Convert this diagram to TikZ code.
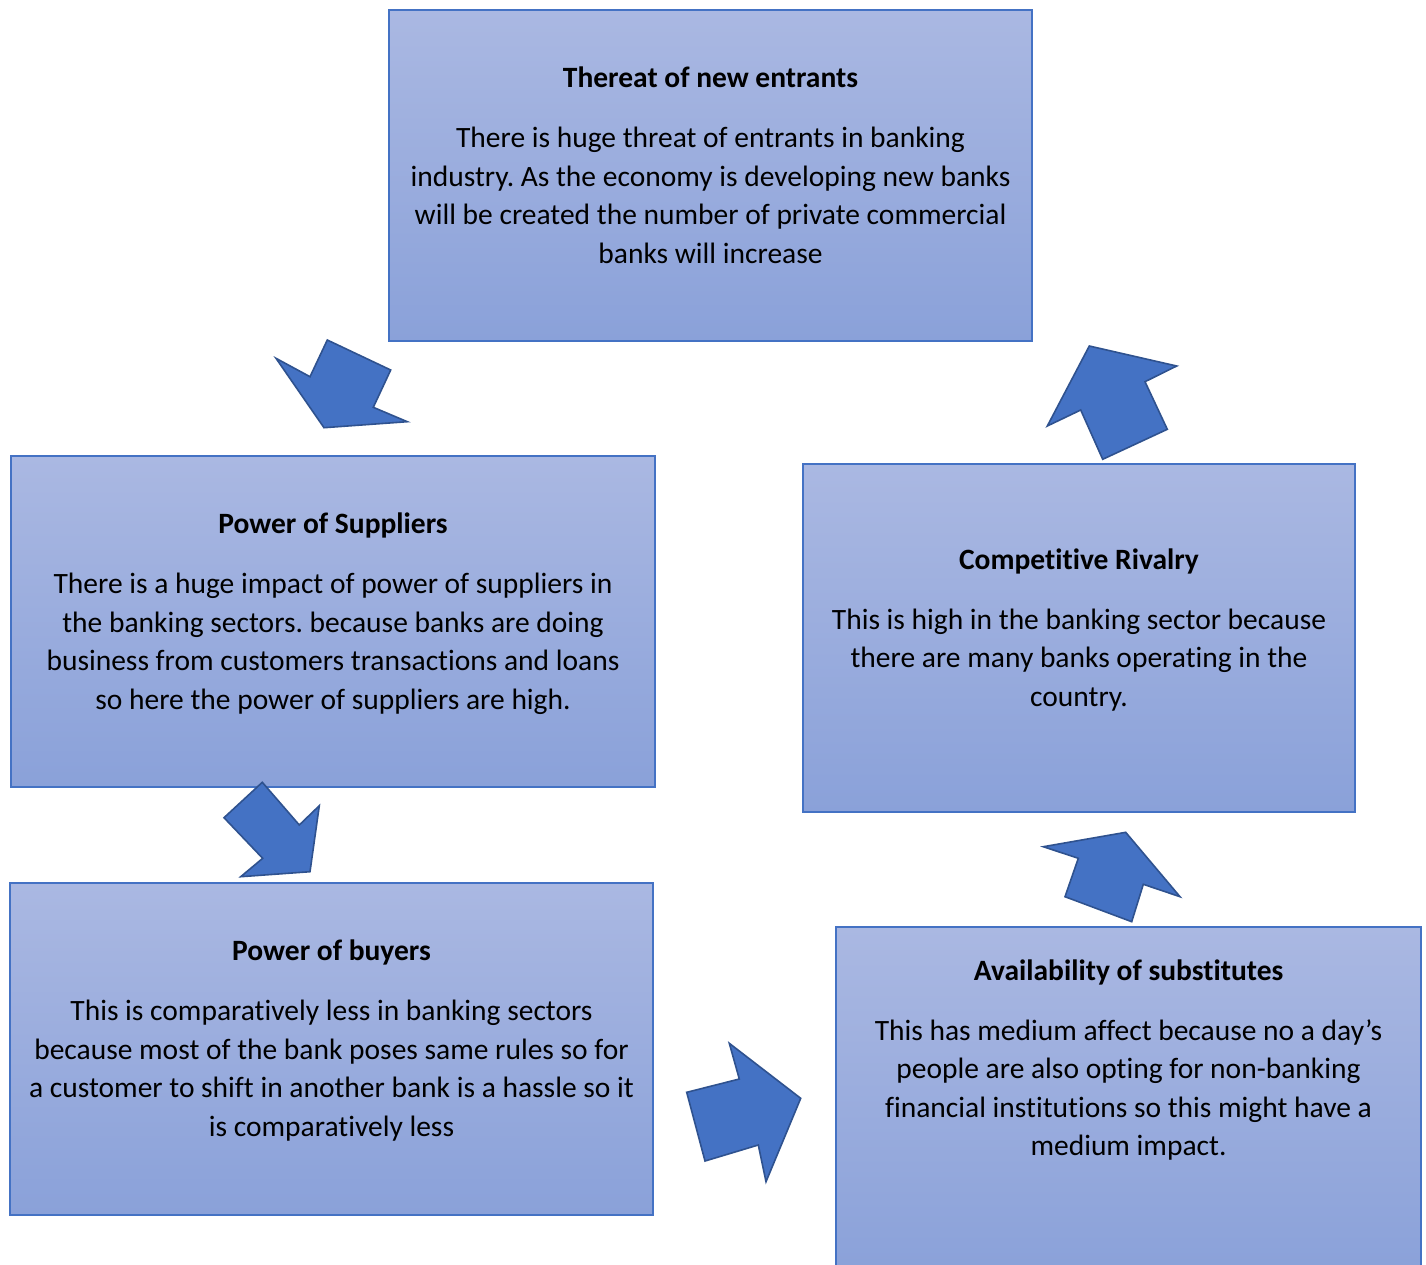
\documentclass[tikz,border=0pt]{standalone}
\usepackage{fontspec}
\setmainfont{Carlito}[Ligatures=NoCommon]
\usepackage{tikz}
\usetikzlibrary{positioning, calc}
\definecolor{paneltop}{RGB}{170, 184, 226}
\definecolor{panelbottom}{RGB}{138, 161, 217}
\definecolor{panelline}{RGB}{68, 114, 196}
\definecolor{arrowblue}{RGB}{68, 114, 196}
\definecolor{arrowline}{RGB}{47, 82, 143}
\frenchspacing

\begin{document}
\begin{tikzpicture}[x=1pt, y=-1pt,
    panel/.style={rectangle, draw=panelline, line width=1.2pt,
        top color=paneltop, bottom color=panelbottom, inner sep=0pt},
    paneltext/.style={align=center, inner sep=0pt,
        font=\fontsize{29.5}{38.5}\selectfont},
    blockarrow/.style={fill=arrowblue, draw=arrowline, line width=1.6pt,
        line join=miter}]
    \useasboundingbox (0,0) rectangle (1426,1264);
    \clip (0,0) rectangle (1426,1264);
    % THREAT OF NEW ENTRANTS (top box)
    \node[panel, minimum width=643pt, minimum height=331pt] (entrants) at (710.5,175.5) {};
    \node[paneltext] (entrants-txt) at (710.5,165.5) {\textbf{Thereat of new entrants}\\[21.5pt]
        There is huge threat of entrants in banking\\
        industry. As the economy is developing new banks\\
        will be created the number of private commercial\\
        banks will increase};
    % POWER OF SUPPLIERS (left, middle)
    \node[panel, minimum width=644pt, minimum height=331pt] (suppliers) at (333,621.5) {};
    \node[paneltext] (suppliers-txt) at (333,613.5) {\textbf{Power of Suppliers}\\[21.5pt]
        There is a huge impact of power of suppliers in\\
        the banking sectors. because banks are doing\\
        business from customers transactions and loans\\
        so here the power of suppliers are high.};
    % COMPETITIVE RIVALRY (right, middle)
    \node[panel, minimum width=552pt, minimum height=348pt] (rivalry) at (1079,638) {};
    \node[paneltext] (rivalry-txt) at (1079,630) {\textbf{Competitive Rivalry}\\[21.5pt]
        This is high in the banking sector because\\
        there are many banks operating in the\\
        country.};
    % POWER OF BUYERS (left, bottom)
    \node[panel, minimum width=643pt, minimum height=332pt] (buyers) at (331.5,1049) {};
    \node[paneltext] (buyers-txt) at (331.5,1040.5) {\textbf{Power of buyers}\\[21.5pt]
        This is comparatively less in banking sectors\\
        because most of the bank poses same rules so for\\
        a customer to shift in another bank is a hassle so it\\
        is comparatively less};
    % AVAILABILITY OF SUBSTITUTES (right, bottom, runs off the page)
    \node[panel, minimum width=585pt, minimum height=348pt] (substitutes) at (1128.5,1101) {};
    \node[paneltext] (substitutes-txt) at (1128.5,1060) {\textbf{Availability of substitutes}\\[21.5pt]
        This has medium affect because no a day’s\\
        people are also opting for non-banking\\
        financial institutions so this might have a\\
        medium impact.};
    % Block arrows round the cycle
    \draw[blockarrow] (276,358.3) -- (310,376.7) -- (327.3,340) -- (390.7,370)
        -- (373.3,407.3) -- (407.3,421.7) -- (324,427.7) -- cycle;
    \draw[blockarrow] (224,817.7) -- (262.3,782.3) -- (299.3,825) -- (319.3,805.7)
        -- (310,871.7) -- (240.7,876.7) -- (262.7,858.3) -- cycle;
    \draw[blockarrow] (686.7,1092.3) -- (739.3,1079) -- (729.3,1043.3) -- (800.7,1098.3)
        -- (766,1181.7) -- (758.3,1145) -- (705,1161) -- cycle;
    \draw[blockarrow] (1043.3,846.7) -- (1125.7,832.3) -- (1180,896.7) -- (1143.3,884.3)
        -- (1131.7,921.7) -- (1065,896.7) -- (1078.3,858.3) -- cycle;
    \draw[blockarrow] (1089.3,346) -- (1176.7,366) -- (1145,381.7) -- (1167.3,429.3)
        -- (1102.7,459.3) -- (1080.7,410) -- (1047.3,426) -- cycle;
\end{tikzpicture}
\end{document}
